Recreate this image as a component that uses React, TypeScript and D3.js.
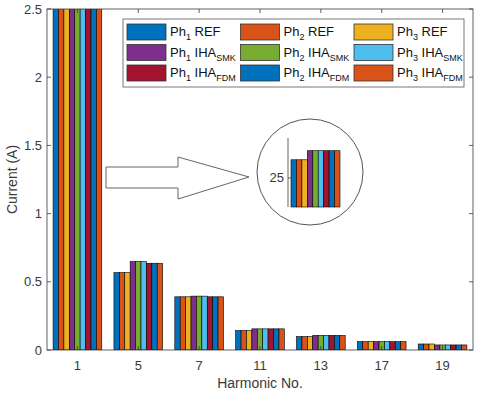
import React from 'react';
import * as d3 from 'd3';

const harmonics = ['1', '5', '7', '11', '13', '17', '19'];

// 9 series, in bar order
const seriesNames = [
  { ph: '1', method: 'REF', sub: '' },
  { ph: '2', method: 'REF', sub: '' },
  { ph: '3', method: 'REF', sub: '' },
  { ph: '1', method: 'IHA', sub: 'SMK' },
  { ph: '2', method: 'IHA', sub: 'SMK' },
  { ph: '3', method: 'IHA', sub: 'SMK' },
  { ph: '1', method: 'IHA', sub: 'FDM' },
  { ph: '2', method: 'IHA', sub: 'FDM' },
  { ph: '3', method: 'IHA', sub: 'FDM' },
];
const colors = ['#0072BD', '#D95319', '#EDB120', '#7E2F8E', '#77AC30', '#4DBEEE', '#A2142F', '#0072BD', '#D95319'];

// values per harmonic (rows) for each series (columns)
const values = [
  [25.5, 25.5, 25.5, 25.75, 25.75, 25.75, 25.75, 25.75, 25.75],
  [0.567, 0.567, 0.567, 0.648, 0.648, 0.648, 0.636, 0.636, 0.636],
  [0.39, 0.39, 0.39, 0.395, 0.395, 0.395, 0.39, 0.39, 0.39],
  [0.142, 0.142, 0.142, 0.155, 0.155, 0.155, 0.155, 0.155, 0.155],
  [0.098, 0.098, 0.098, 0.107, 0.107, 0.107, 0.107, 0.107, 0.107],
  [0.061, 0.061, 0.061, 0.061, 0.061, 0.061, 0.061, 0.061, 0.061],
  [0.044, 0.044, 0.044, 0.037, 0.037, 0.037, 0.037, 0.037, 0.037],
];
const yTicks = [0, 0.5, 1, 1.5, 2, 2.5];
const insetTicks = [25];

const W = 480;
const H = 394;
const margin = { top: 9, right: 7, bottom: 44, left: 47 };
const axisColor = '#3a3a3a';
const font = '"Liberation Sans", Arial, Helvetica, sans-serif';

const App = () => {
  const x0 = margin.left;
  const x1 = W - margin.right;
  const y0 = H - margin.bottom;
  const y1 = margin.top;

  const x = d3.scaleBand().domain(harmonics).range([x0, x1]).paddingInner(0.2).paddingOuter(0.1);
  const xInner = d3.scaleBand().domain(d3.range(9).map(String)).range([0, x.bandwidth()]);
  const y = d3.scaleLinear().domain([0, 2.5]).range([y0, y1]);

  // inset chart (zoom of harmonic 1)
  const inset = { cx: 310, cy: 172, r: 53, left: 288, right: 340, top: 138, bottom: 207 };
  const yIn = d3.scaleLinear().domain([24.2, 26.1]).range([inset.bottom, inset.top]);
  const xIn = d3.scaleBand().domain(d3.range(9).map(String)).range([inset.left + 3, inset.right]);

  const arrow = d3.line()([
    [106, 167], [178, 167], [178, 157], [249, 177], [178, 199], [178, 188], [106, 188],
  ]) + 'Z';

  const legend = { x: 123, y: 19, w: 341, h: 68, colW: 113.5, rowH: 20.5 };

  return (
    <svg width={W} height={H} style={{ position: 'absolute', left: 0, top: 0, background: '#fff' }} fontFamily={font}>
      <defs>
        <clipPath id="plot">
          <rect x={x0} y={y1} width={x1 - x0} height={y0 - y1} />
        </clipPath>
      </defs>

      {/* bars */}
      <g clipPath="url(#plot)">
        {values.map((row, i) =>
          row.map((v, j) => (
            <rect
              key={`${i}-${j}`}
              x={x(harmonics[i])! + xInner(String(j))!}
              y={y(v)}
              width={xInner.bandwidth()}
              height={y0 - y(v)}
              fill={colors[j]}
              stroke="#000"
              strokeWidth={0.6}
            />
          ))
        )}
      </g>

      {/* axes box */}
      <rect x={x0} y={y1} width={x1 - x0} height={y0 - y1} fill="none" stroke={axisColor} strokeWidth={0.8} />
      {yTicks.map(t => (
        <g key={t}>
          <line x1={x0} x2={x0 + 4} y1={y(t)} y2={y(t)} stroke={axisColor} strokeWidth={0.8} />
          <line x1={x1} x2={x1 - 4} y1={y(t)} y2={y(t)} stroke={axisColor} strokeWidth={0.8} />
          <text x={x0 - 5} y={y(t)} dy="0.35em" textAnchor="end" fontSize={13} fill={axisColor}>{t}</text>
        </g>
      ))}
      {harmonics.map(h => {
        const cx = x(h)! + x.bandwidth() / 2;
        return (
          <g key={h}>
            <line x1={cx} x2={cx} y1={y0} y2={y0 - 4} stroke={axisColor} strokeWidth={0.8} />
            <line x1={cx} x2={cx} y1={y1} y2={y1 + 4} stroke={axisColor} strokeWidth={0.8} />
            <text x={cx} y={y0 + 20} textAnchor="middle" fontSize={13} fill={axisColor}>{h}</text>
          </g>
        );
      })}
      <text x={(x0 + x1) / 2} y={H - 6} textAnchor="middle" fontSize={14} fill={axisColor}>Harmonic No.</text>
      <text transform={`translate(17,${(y0 + y1) / 2}) rotate(-90)`} textAnchor="middle" fontSize={14} fill={axisColor}>Current (A)</text>

      {/* legend */}
      <rect x={legend.x} y={legend.y} width={legend.w} height={legend.h} fill="#fff" stroke="#555" strokeWidth={0.8} />
      {seriesNames.map((s, k) => {
        const col = k % 3;
        const row = Math.floor(k / 3);
        const lx = legend.x + 4 + col * legend.colW;
        const ly = legend.y + 5 + row * legend.rowH;
        return (
          <g key={k}>
            <rect x={lx} y={ly} width={39} height={16} fill={colors[k]} stroke="#333" strokeWidth={0.8} />
            <text x={lx + 43} y={ly + 12} fontSize={13} fill="#111">
              Ph<tspan fontSize={9} dy={4}>{s.ph}</tspan>
              <tspan dy={-4}>{' ' + s.method}</tspan>
              {s.sub && <tspan fontSize={9} dy={4}>{s.sub}</tspan>}
            </text>
          </g>
        );
      })}

      {/* arrow */}
      <path d={arrow} fill="#fff" stroke="#666" strokeWidth={1} />

      {/* inset */}
      <circle cx={inset.cx} cy={inset.cy} r={inset.r} fill="#fff" stroke="#555" strokeWidth={1} />
      {values[0].map((v, j) => (
        <rect
          key={j}
          x={xIn(String(j))}
          y={yIn(v)}
          width={xIn.bandwidth()}
          height={inset.bottom - yIn(v)}
          fill={colors[j]}
          stroke="#000"
          strokeWidth={0.6}
        />
      ))}
      <line x1={inset.left} x2={inset.left} y1={inset.top} y2={inset.bottom} stroke={axisColor} strokeWidth={0.8} />
      {insetTicks.map(t => (
        <g key={t}>
          <line x1={inset.left} x2={inset.left + 3} y1={yIn(t)} y2={yIn(t)} stroke={axisColor} strokeWidth={0.8} />
          <text x={inset.left - 4} y={yIn(t)} dy="0.35em" textAnchor="end" fontSize={13} fill={axisColor}>{t}</text>
        </g>
      ))}
    </svg>
  );
};

export default App;
